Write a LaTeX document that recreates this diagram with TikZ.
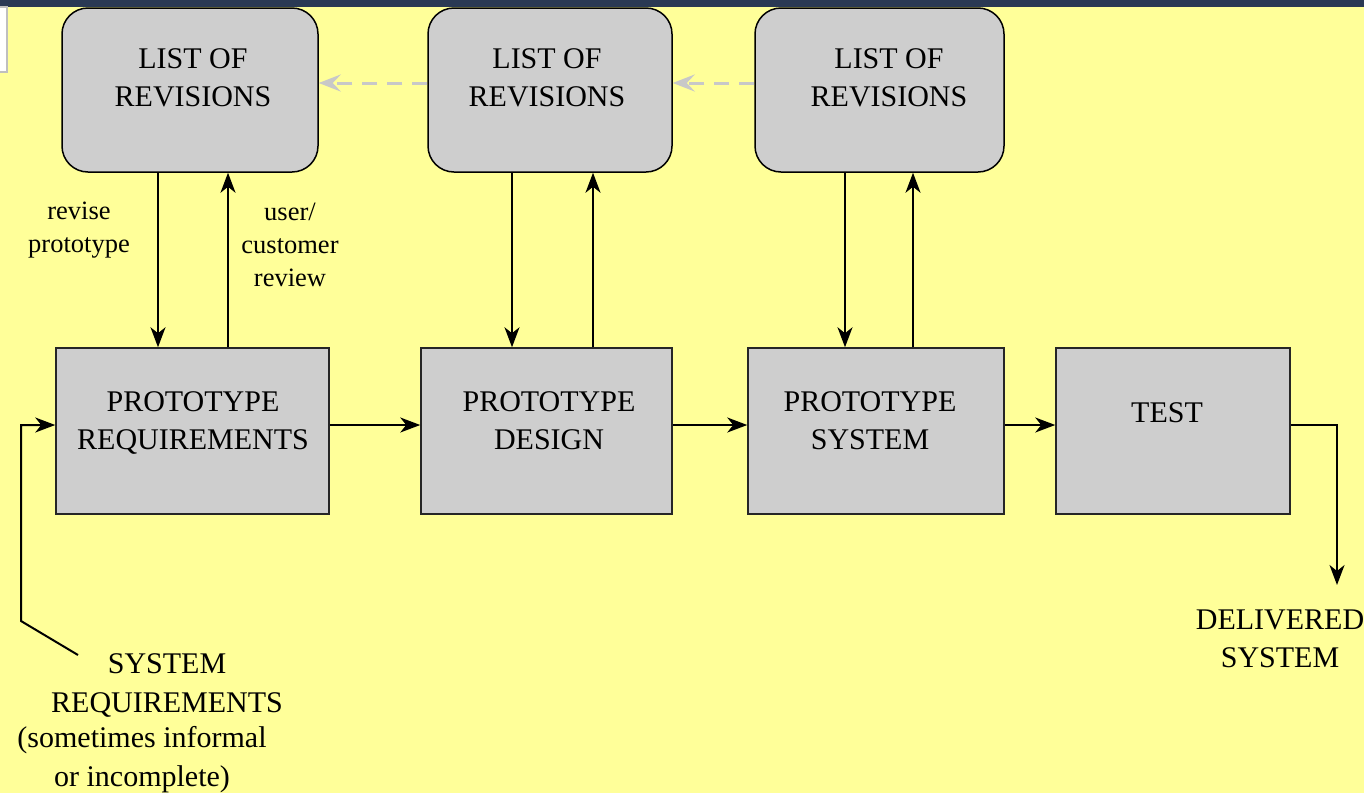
\documentclass[tikz,border=0pt]{standalone}
\usepackage{fontspec}
\setmainfont{Liberation Serif}
\usetikzlibrary{arrows.meta}

\definecolor{paper}{RGB}{255,255,153}
\definecolor{boxgray}{RGB}{206,206,206}
\definecolor{topbar}{RGB}{42,57,84}
\definecolor{revgray}{RGB}{200,200,200}

\tikzset{
  listbox/.style={draw=black, fill=boxgray, line width=1.5pt, rounded corners=26pt,
    minimum height=164pt, inner sep=0pt},
  protobox/.style={draw=black!85, fill=boxgray, line width=1.5pt,
    minimum height=166pt, inner sep=0pt},
  bigtxt/.style={align=center, inner sep=0pt, font=\rmfamily\fontsize{30}{38}\selectfont},
  lowtxt/.style={align=center, inner sep=0pt, font=\rmfamily\fontsize{30}{39}\selectfont},
  smalltxt/.style={align=center, inner sep=0pt, font=\rmfamily\fontsize{26.5}{33}\selectfont},
  arr/.style={line width=2pt, -{Stealth[length=20pt,width=15pt,inset=6pt]}},
  revarr/.style={draw=revgray, line width=3pt, dash pattern=on 15pt off 10pt,
    -{Stealth[length=22pt,width=17pt,inset=8pt,fill=revgray]}},
}

\begin{document}
\begin{tikzpicture}[x=1pt,y=-1pt]
  \useasboundingbox (0,0) rectangle (1364,793);
  \clip (0,0) rectangle (1364,793);
  \fill[paper] (0,0) rectangle (1364,793);

  % header strip and side tab
  \fill[topbar] (0,0) rectangle (1364,7);
  \filldraw[fill=white, draw=black!25, line width=2pt] (-5,7) rectangle (7,72);

  % revision lists
  \node[listbox, minimum width=256pt] (lr1) at (190,90) {};
  \node[listbox, minimum width=244pt] (lr2) at (550,90) {};
  \node[listbox, minimum width=249pt] (lr3) at (879.5,90) {};
  \node[bigtxt] (lr1t) at (193,78) {LIST OF\\REVISIONS};
  \node[bigtxt] (lr2t) at (547,78) {LIST OF\\REVISIONS};
  \node[bigtxt] (lr3t) at (889,78) {LIST OF\\REVISIONS};

  % prototype stages
  \node[protobox, minimum width=273pt] (req) at (192.5,431) {};
  \node[protobox, minimum width=251pt] (des) at (546.5,431) {};
  \node[protobox, minimum width=256pt] (sys) at (876,431) {};
  \node[protobox, minimum width=234pt] (tst) at (1173,431) {};
  \node[bigtxt] (reqt) at (193,423) {PROTOTYPE\\REQUIREMENTS};
  \node[bigtxt] (dest) at (549,421) {PROTOTYPE\\DESIGN};
  \node[bigtxt] (syst) at (870,421) {PROTOTYPE\\SYSTEM};
  \node[bigtxt] (tstt) at (1167,413) {TEST};

  % flow between stages
  \draw[arr] ([yshift=6pt]req.east) -- ([yshift=6pt]des.west);
  \draw[arr] ([yshift=6pt]des.east) -- ([yshift=6pt]sys.west);
  \draw[arr] ([yshift=6pt]sys.east) -- ([yshift=6pt]tst.west);

  % review loops
  \draw[arr] ([xshift=-32pt]lr1.south) -- ([xshift=-32pt]lr1.south |- req.north);
  \draw[arr] ([xshift=38pt]lr1.south |- req.north) -- ([xshift=38pt]lr1.south);
  \draw[arr] ([xshift=-38pt]lr2.south) -- ([xshift=-38pt]lr2.south |- des.north);
  \draw[arr] ([xshift=43pt]lr2.south |- des.north) -- ([xshift=43pt]lr2.south);
  \draw[arr] ([xshift=-34.5pt]lr3.south) -- ([xshift=-34.5pt]lr3.south |- sys.north);
  \draw[arr] ([xshift=33.5pt]lr3.south |- sys.north) -- ([xshift=33.5pt]lr3.south);

  \node[smalltxt] (revise) at (79,230) {revise\\prototype};
  \node[smalltxt] (review) at (290,245) {user/\\customer\\review};

  % revisions carried back
  \draw[revarr] ([yshift=7pt]lr2.west) -- ([yshift=7pt]lr1.east);
  \draw[revarr] ([yshift=7pt]lr3.west) -- ([yshift=7pt]lr2.east);

  % input requirements
  \coordinate (sysin) at (78,655);
  \coordinate (bend) at (21,621);
  \draw[arr] (sysin) -- (bend) |- ([yshift=6pt]req.west);
  \node[lowtxt] (sysreq) at (167,685) {SYSTEM\\REQUIREMENTS};
  \node[lowtxt] (sysnote) at (142,760) {(sometimes informal\\or incomplete)};

  % delivered output
  \coordinate (delivered) at (1337,585);
  \draw[arr] ([yshift=6pt]tst.east) -| (delivered);
  \node[bigtxt] (deliv) at (1280,639) {DELIVERED\\SYSTEM};
\end{tikzpicture}
\end{document}
